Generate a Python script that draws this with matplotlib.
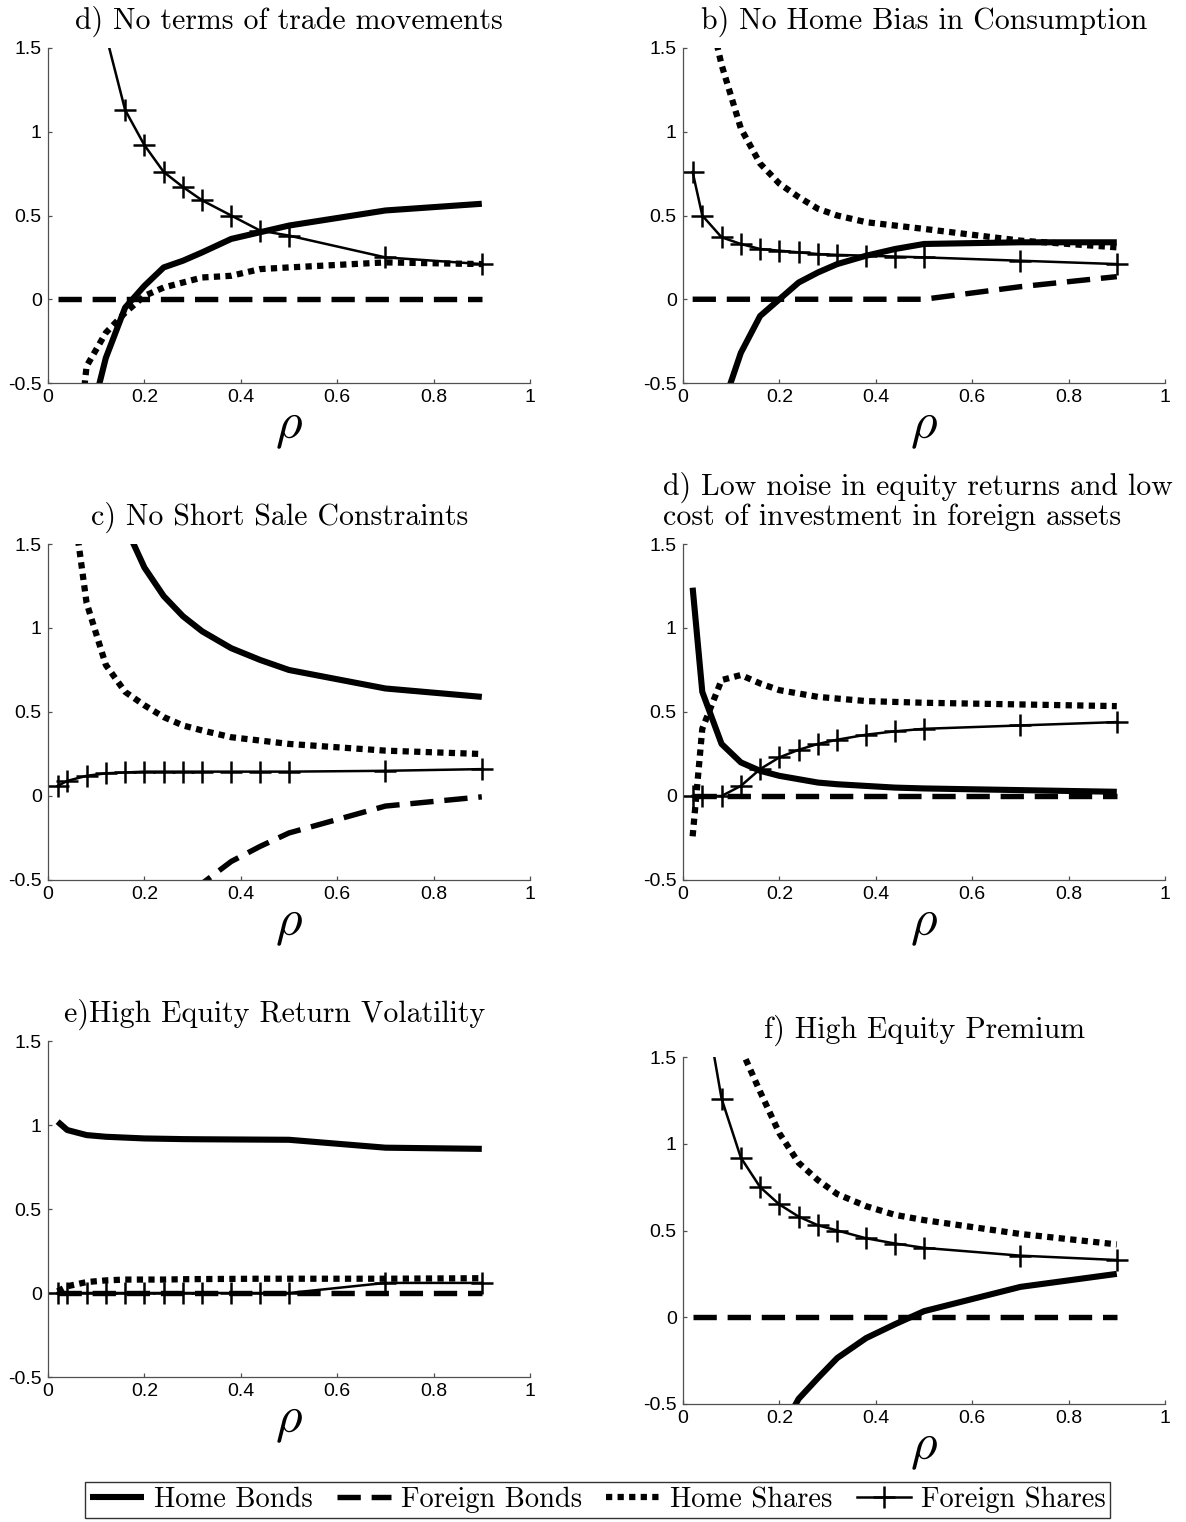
import matplotlib
matplotlib.use("Agg")
import matplotlib.pyplot as plt

plt.rcParams['mathtext.fontset'] = 'cm'

# ---------------- data ----------------
rho = [0.02, 0.04, 0.08, 0.12, 0.16, 0.20, 0.24, 0.28, 0.32, 0.38, 0.44, 0.50, 0.70, 0.90]

series_names = ["Home Bonds", "Foreign Bonds", "Home Shares", "Foreign Shares"]

# a) (titled "d) No terms of trade movements")
a_home_bonds = [-5.0, -2.5, -0.81, -0.35, -0.05, 0.08, 0.19, 0.23, 0.28, 0.36, 0.40, 0.44, 0.53, 0.57]
a_foreign_bonds = [0.0, 0.0, 0.0, 0.0, 0.0, 0.0, 0.0, 0.0, 0.0, 0.0, 0.0, 0.0, 0.0, 0.0]
a_home_shares = [-3.0, -1.5, -0.40, -0.20, -0.08, 0.02, 0.07, 0.10, 0.13, 0.14, 0.18, 0.19, 0.22, 0.21]
a_foreign_shares = [7.0, 4.0, 2.3, 1.58, 1.13, 0.92, 0.76, 0.67, 0.59, 0.50, 0.41, 0.38, 0.25, 0.21]

# b) No Home Bias in Consumption
b_home_bonds = [-4.0, -2.0, -0.66, -0.32, -0.10, 0.0, 0.10, 0.16, 0.21, 0.26, 0.30, 0.33, 0.34, 0.34]
b_foreign_bonds = [0.0, 0.0, 0.0, 0.0, 0.0, 0.0, 0.0, 0.0, 0.0, 0.0, 0.0, 0.0, 0.075, 0.135]
b_home_shares = [3.0, 1.9, 1.4, 1.02, 0.81, 0.69, 0.61, 0.54, 0.50, 0.46, 0.44, 0.42, 0.35, 0.31]
b_foreign_shares = [0.76, 0.50, 0.37, 0.33, 0.30, 0.29, 0.28, 0.27, 0.265, 0.26, 0.255, 0.25, 0.23, 0.21]

# c) No Short Sale Constraints
c_home_bonds = [8.0, 5.0, 3.0, 2.1, 1.61, 1.36, 1.19, 1.07, 0.98, 0.88, 0.81, 0.75, 0.64, 0.59]
c_foreign_bonds = [-8.0, -5.0, -3.0, -2.0, -1.5, -1.15, -0.90, -0.70, -0.52, -0.39, -0.30, -0.22, -0.06, -0.005]
c_home_shares = [4.0, 2.0, 1.15, 0.78, 0.62, 0.54, 0.47, 0.42, 0.39, 0.35, 0.33, 0.31, 0.27, 0.25]
c_foreign_shares = [0.06, 0.09, 0.12, 0.135, 0.14, 0.145, 0.145, 0.145, 0.145, 0.145, 0.145, 0.145, 0.15, 0.16]

# d) Low noise in equity returns and low cost of investment in foreign assets
d_home_bonds = [1.24, 0.62, 0.31, 0.20, 0.15, 0.12, 0.10, 0.08, 0.07, 0.06, 0.05, 0.045, 0.035, 0.025]
d_foreign_bonds = [0.0, 0.0, 0.0, 0.0, 0.0, 0.0, 0.0, 0.0, 0.0, 0.0, 0.0, 0.0, 0.0, 0.0]
d_home_shares = [-0.24, 0.40, 0.69, 0.72, 0.67, 0.63, 0.61, 0.59, 0.58, 0.565, 0.56, 0.555, 0.545, 0.535]
d_foreign_shares = [0.0, 0.0, 0.0, 0.06, 0.16, 0.23, 0.275, 0.31, 0.335, 0.365, 0.385, 0.40, 0.42, 0.44]

# e) High Equity Return Volatility
e_home_bonds = [1.02, 0.97, 0.94, 0.93, 0.925, 0.92, 0.918, 0.916, 0.915, 0.914, 0.913, 0.912, 0.865, 0.858]
e_foreign_bonds = [0.0, 0.0, 0.0, 0.0, 0.0, 0.0, 0.0, 0.0, 0.0, 0.0, 0.0, 0.0, 0.0, 0.0]
e_home_shares = [0.01, 0.04, 0.065, 0.075, 0.08, 0.08, 0.08, 0.082, 0.083, 0.084, 0.085, 0.085, 0.085, 0.088]
e_foreign_shares = [0.0, 0.0, 0.0, 0.0, 0.0, 0.0, 0.0, 0.0, 0.0, 0.0, 0.0, 0.0, 0.06, 0.06]

# f) High Equity Premium
f_home_bonds = [-10.0, -5.0, -2.5, -1.5, -1.0, -0.67, -0.47, -0.35, -0.235, -0.12, -0.04, 0.035, 0.175, 0.25]
f_foreign_bonds = [0.0, 0.0, 0.0, 0.0, 0.0, 0.0, 0.0, 0.0, 0.0, 0.0, 0.0, 0.0, 0.0, 0.0]
f_home_shares = [7.0, 4.0, 2.3, 1.55, 1.30, 1.06, 0.89, 0.79, 0.71, 0.64, 0.59, 0.56, 0.48, 0.42]
f_foreign_shares = [3.5, 1.9, 1.26, 0.92, 0.75, 0.65, 0.58, 0.53, 0.50, 0.455, 0.425, 0.40, 0.355, 0.33]

titles = [
    ["d) No terms of trade movements"],
    ["b) No Home Bias in Consumption"],
    ["c) No Short Sale Constraints"],
    ["d) Low noise in equity returns and low", "cost of investment in foreign assets"],
    ["e)High Equity Return Volatility"],
    ["f) High Equity Premium"],
]

xticks = [0, 0.2, 0.4, 0.6, 0.8, 1]
xticklabels = ["0", "0.2", "0.4", "0.6", "0.8", "1"]
yticks = [-0.5, 0, 0.5, 1, 1.5]
yticklabels = ["-0.5", "0", "0.5", "1", "1.5"]

panels = [
    (a_home_bonds, a_foreign_bonds, a_home_shares, a_foreign_shares),
    (b_home_bonds, b_foreign_bonds, b_home_shares, b_foreign_shares),
    (c_home_bonds, c_foreign_bonds, c_home_shares, c_foreign_shares),
    (d_home_bonds, d_foreign_bonds, d_home_shares, d_foreign_shares),
    (e_home_bonds, e_foreign_bonds, e_home_shares, e_foreign_shares),
    (f_home_bonds, f_foreign_bonds, f_home_shares, f_foreign_shares),
]

# ---------------- layout (pixel boxes: left, top, right, bottom) ----------------
W, H = 1186, 1522
boxes = [
    (48, 48, 530, 383),
    (683, 48, 1165, 383),
    (48, 544, 530, 880),
    (683, 544, 1165, 880),
    (48, 1041, 530, 1377),
    (683, 1057, 1165, 1404),
]
title_xc = [0.5, 0.5, 0.48, None, 0.47, 0.5]

fig = plt.figure(figsize=(W / 100, H / 100), dpi=100)

spine_col = '#505050'
handles = None
for i, (box, data) in enumerate(zip(boxes, panels)):
    l, t, r, b = box
    ax = fig.add_axes([l / W, 1 - b / H, (r - l) / W, (b - t) / H])
    hb, fb, hs, fs = data
    l1, = ax.plot(rho, hb, color='black', lw=4.4, solid_capstyle='butt',
                  label=series_names[0])
    l2, = ax.plot(rho, fb, color='black', lw=3.9, dashes=(4.3, 2.0),
                  dash_capstyle='butt', label=series_names[1])
    l3, = ax.plot(rho, hs, color='black', lw=4.5, dashes=(1.0, 0.85),
                  dash_capstyle='butt', label=series_names[2])
    l4, = ax.plot(rho, fs, color='black', lw=1.8, marker='+', markersize=16,
                  markeredgewidth=1.8, label=series_names[3])
    if handles is None:
        handles = [l1, l2, l3, l4]

    ax.set_xlim(0, 1)
    ax.set_ylim(-0.5, 1.5)
    ax.set_xticks(xticks)
    ax.set_xticklabels(xticklabels)
    ax.set_yticks(yticks)
    ax.set_yticklabels(yticklabels)
    for sp in ['top', 'right']:
        ax.spines[sp].set_visible(False)
    for sp in ['left', 'bottom']:
        ax.spines[sp].set_color(spine_col)
        ax.spines[sp].set_linewidth(0.9)
    ax.tick_params(direction='in', length=3.2, width=0.9, color=spine_col,
                   labelsize=14, pad=4.5)
    for lab in ax.get_xticklabels() + ax.get_yticklabels():
        lab.set_fontfamily('Liberation Sans')

    hpx = b - t
    ax.text(0.5, -43 / hpx, r'$\rho$', transform=ax.transAxes, ha='center',
            va='center', fontsize=37)

    tl = titles[i]
    if len(tl) == 1:
        ax.text(title_xc[i], 1 + 19 / hpx, tl[0], transform=ax.transAxes,
                ha='center', va='baseline', fontfamily='cmr10', fontsize=21.5)
    else:
        xl = (663 - l) / (r - l)
        ax.text(xl, 1 + 49 / hpx, tl[0], transform=ax.transAxes,
                ha='left', va='baseline', fontfamily='cmr10', fontsize=21.5)
        ax.text(xl, 1 + 19 / hpx, tl[1], transform=ax.transAxes,
                ha='left', va='baseline', fontfamily='cmr10', fontsize=21.5)

leg = fig.legend(handles, series_names, loc='center', ncol=4,
                 bbox_to_anchor=(597.5 / W, 1 - 1500 / H),
                 prop={'family': 'cmr10', 'size': 20.5},
                 frameon=True, fancybox=False, edgecolor='black',
                 borderpad=0.15, handlelength=1.9, handletextpad=0.35,
                 columnspacing=0.85, borderaxespad=0)
leg.get_frame().set_linewidth(1.0)

fig.savefig('out.png', dpi=100)
